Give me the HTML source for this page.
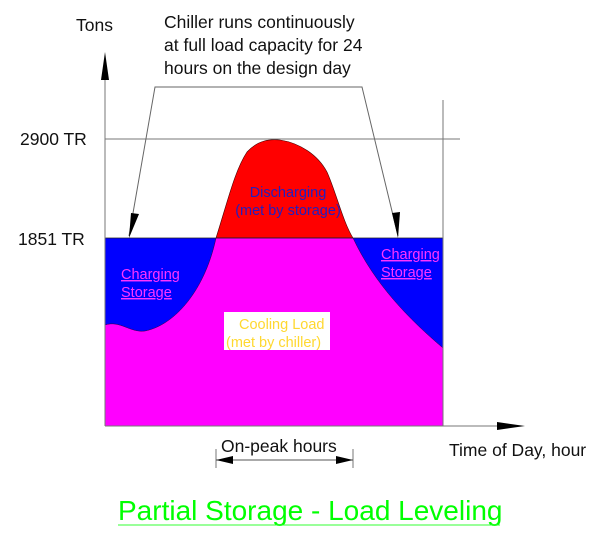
<!DOCTYPE html>
<html><head><style>body{margin:0;background:#fff}svg{display:block}</style></head><body>
<svg width="612" height="541" viewBox="0 0 612 541" xmlns="http://www.w3.org/2000/svg" font-family="Liberation Sans, sans-serif">
<rect x="105" y="238" width="338" height="188" fill="#0000ff"/>
<path d="M216,238 C228,200 235,170 247,152 C258,140 270,139 280,140 C300,143 318,155 327,172 C336,192 343,222 353,238 Z" fill="#ff0000" stroke="#400" stroke-width="0.6"/>
<path d="M105,325 C120,320 130,333 145,331 C175,325 205,290 216,238 L353,238 C375,285 410,320 443,348 L443,426 L105,426 Z" fill="#ff00ff" stroke="#303" stroke-width="0.5"/>
<line x1="105" y1="238" x2="443" y2="238" stroke="#222" stroke-width="0.8"/>
<line x1="105" y1="75" x2="105" y2="426" stroke="#777" stroke-width="1"/>
<polygon points="105,52 101,80 109,80" fill="#000"/>
<line x1="105" y1="426" x2="505" y2="426" stroke="#777" stroke-width="1"/>
<polygon points="525,426 497,422 497,430" fill="#000"/>
<line x1="443" y1="100" x2="443" y2="426" stroke="#777" stroke-width="1"/>
<line x1="105" y1="139" x2="460" y2="139" stroke="#777" stroke-width="1"/>
<polyline points="129,236 155,87 362,87 398,236" fill="none" stroke="#666" stroke-width="1"/>
<polygon points="129,238 131,213 139,214" fill="#000"/>
<polygon points="398,238 392,213 400,212" fill="#000"/>
<line x1="216" y1="449" x2="216" y2="468" stroke="#777"/>
<line x1="353" y1="449" x2="353" y2="468" stroke="#777"/>
<line x1="216" y1="460" x2="353" y2="460" stroke="#555"/>
<polygon points="216,460 233,456 233,464" fill="#000"/>
<polygon points="353,460 336,456 336,464" fill="#000"/>
<g font-size="17.5" fill="#111">
<text x="76" y="31">Tons</text>
<text x="164" y="28">Chiller runs continuously</text>
<text x="164" y="51">at full load capacity for 24</text>
<text x="164" y="74">hours on the design day</text>
<text x="20" y="145">2900 TR</text>
<text x="18" y="245">1851 TR</text>
<text x="221" y="452">On-peak hours</text>
<text x="449" y="456">Time of Day, hour</text>
</g>
<g font-size="14.5">
<text x="288" y="197" text-anchor="middle" fill="#2020c0">Discharging</text>
<text x="288" y="215" text-anchor="middle" fill="#2020c0">(met by storage)</text>
<text x="121" y="279" fill="#ff33ff" text-decoration="underline">Charging</text>
<text x="121" y="297" fill="#ff33ff" text-decoration="underline">Storage</text>
<text x="381" y="259" fill="#ff33ff" text-decoration="underline">Charging</text>
<text x="381" y="277" fill="#ff33ff" text-decoration="underline">Storage</text>
<rect x="224" y="312" width="106" height="38" fill="#fff"/>
<text x="239" y="329" fill="#ffd830">Cooling Load</text>
<text x="226" y="347" fill="#ffd830">(met by chiller)</text>
</g>
<text x="118" y="520" font-size="28" fill="#00ff00">Partial Storage - Load Leveling</text>
<line x1="118" y1="525" x2="500" y2="525" stroke="#33ff33" stroke-width="1"/>
</svg>
</body></html>
